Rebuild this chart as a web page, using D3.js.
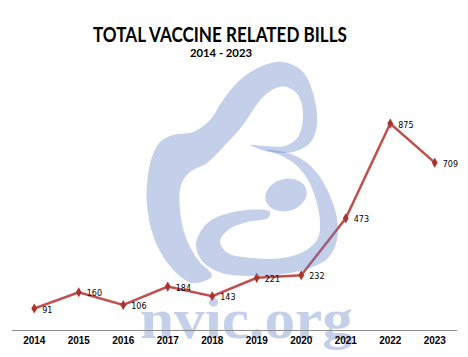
<!DOCTYPE html>
<html><head><meta charset="utf-8">
<script src="https://cdn.jsdelivr.net/npm/d3@7"></script>
<style>body{margin:0;background:#fff}svg{display:block}</style>
</head><body>
<script>
// ---- data ----
const years = ["2014","2015","2016","2017","2018","2019","2020","2021","2022","2023"];
const bills = [91,160,106,184,143,221,232,473,875,709];
const title = "TOTAL VACCINE RELATED BILLS";
const subtitle = "2014 - 2023";
const watermarkText = "nvic.org";

// ---- watermark artwork (decorative logo outline, not data) ----
const logoMother = [[262,66],[283,62],[302,71],[313,93],[317,125],[310,143],[293,152],[270,152],[250,145],[265,146],[285,146],[298,137],[303,114],[298,95],[287,87],[276,88],[263,97],[253,110],[243,125],[227,143],[207,163],[190,172],[181,185],[180,210],[186,238],[198,260],[212,276],[192,283],[170,266],[154,238],[147,205],[148,175],[152,157],[160,142],[173,135],[193,132],[210,120],[223,100],[240,80]];
const logoArc = [[266,150],[288,153],[306,162],[320,177],[330,196],[337,218],[337,240],[328,258],[310,268],[283,274],[250,276],[222,273],[203,262],[196,245],[203,228],[215,218],[247,210],[270,212],[268,218],[247,222],[228,230],[220,242],[228,253],[252,258],[282,258],[305,251],[318,238],[320,222],[316,200],[308,180],[296,165],[280,155]];

const W = 468, H = 357;
const svg = d3.select("body").append("svg").attr("width", W).attr("height", H);

const x = d3.scaleBand().domain(years).range([12, 457]);
const y = d3.scaleLinear().domain([0, 1000]).range([330, 94]);

// title
svg.append("text").attr("x", 220).attr("y", 41.5).attr("text-anchor", "middle")
  .attr("font-family", "Lato, 'Open Sans', sans-serif").attr("font-weight", 700)
  .attr("font-size", 21).attr("textLength", 254).attr("lengthAdjust", "spacingAndGlyphs")
  .attr("fill", "#000").text(title);
svg.append("text").attr("x", 221).attr("y", 56.7).attr("text-anchor", "middle")
  .attr("font-family", "Lato, 'Open Sans', sans-serif").attr("font-weight", 700)
  .attr("font-size", 11.5).attr("textLength", 62).attr("lengthAdjust", "spacingAndGlyphs")
  .attr("fill", "#000").text(subtitle);

// axis
const xAxis = svg.append("g").attr("transform", "translate(0,330)")
  .call(d3.axisBottom(x).tickSize(0).tickPadding(7));
xAxis.select(".domain").attr("stroke", "#8c8c8c").attr("stroke-width", 1)
  .attr("d", "M12,0.5H457");
xAxis.selectAll("text").attr("font-family", "'Liberation Sans', Arial, sans-serif")
  .attr("font-weight", 700).attr("font-size", 10).attr("fill", "#000").attr("dy", "0.71em");

// series
const cx = d => x(d.year) + x.bandwidth() / 2;
const pts = years.map((yr, i) => ({year: yr, v: bills[i]}));
svg.append("path").datum(pts)
  .attr("d", d3.line().x(cx).y(d => y(d.v)))
  .attr("fill", "none").attr("stroke", "#c0504d").attr("stroke-width", 2.5);
svg.append("g").selectAll("path").data(pts).join("path")
  .attr("transform", d => `translate(${cx(d)},${y(d.v)})`)
  .attr("d", d3.symbol(d3.symbolDiamond, 30))
  .attr("fill", "#a83532");

// watermark (semi-transparent on top)
const wm = svg.append("g").attr("fill", "rgb(100,130,200)").attr("fill-opacity", 0.38);
const closed = d3.line().curve(d3.curveCatmullRomClosed.alpha(0.5));
const logo = wm.append("g");
logo.append("path").attr("d", closed(logoMother));
logo.append("path").attr("d", closed(logoArc));
logo.append("ellipse").attr("cx", 286).attr("cy", 195).attr("rx", 21).attr("ry", 16)
  .attr("transform", "rotate(-15,286,195)");
wm.append("text").attr("x", 140).attr("y", 338)
  .attr("font-family", "'Liberation Serif', 'Times New Roman', serif").attr("font-weight", 700)
  .attr("font-size", 58).attr("textLength", 213).attr("lengthAdjust", "spacingAndGlyphs")
  .text(watermarkText);

// data labels
svg.append("g").selectAll("text").data(pts).join("text")
  .attr("x", d => cx(d) + 8).attr("y", d => y(d.v) + 4)
  .attr("font-family", "'DejaVu Sans', Verdana, sans-serif").attr("font-size", 8)
  .attr("fill", "#000").text(d => d.v);

// redraw tick labels above watermark
svg.node().appendChild(xAxis.node());
</script>
</body></html>
